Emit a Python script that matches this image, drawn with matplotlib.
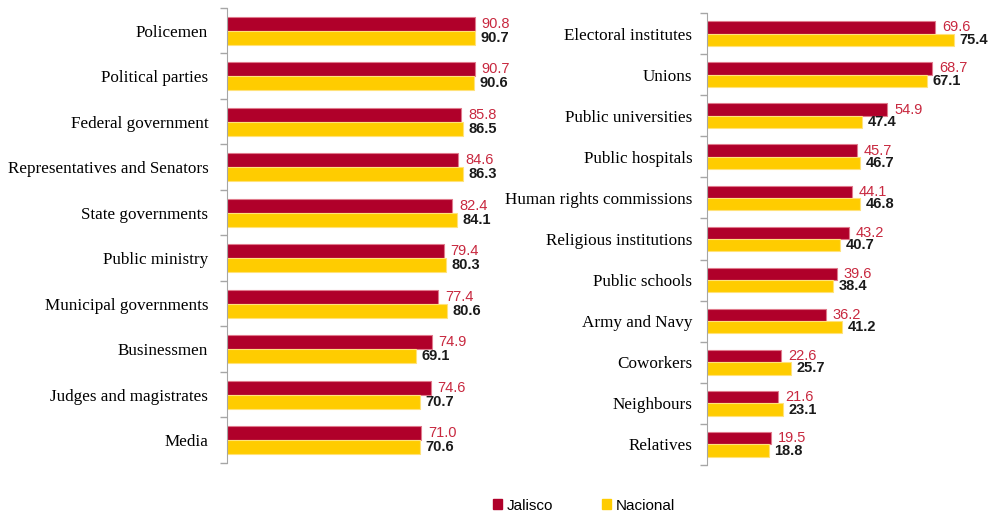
import matplotlib
matplotlib.use('Agg')
import matplotlib.pyplot as plt
import numpy as np
from matplotlib.patches import Patch

# Trust levels, Jalisco vs national
left_cats = ['Policemen', 'Political parties', 'Federal government',
             'Representatives and Senators', 'State governments', 'Public ministry',
             'Municipal governments', 'Businessmen', 'Judges and magistrates', 'Media']
left_jal = [90.8, 90.7, 85.8, 84.6, 82.4, 79.4, 77.4, 74.9, 74.6, 71.0]
left_nac = [90.7, 90.6, 86.5, 86.3, 84.1, 80.3, 80.6, 69.1, 70.7, 70.6]

right_cats = ['Electoral institutes', 'Unions', 'Public universities', 'Public hospitals',
              'Human rights commissions', 'Religious institutions', 'Public schools',
              'Army and Navy', 'Coworkers', 'Neighbours', 'Relatives']
right_jal = [69.6, 68.7, 54.9, 45.7, 44.1, 43.2, 39.6, 36.2, 22.6, 21.6, 19.5]
right_nac = [75.4, 67.1, 47.4, 46.7, 46.8, 40.7, 38.4, 41.2, 25.7, 23.1, 18.8]

RED = '#B0002A'
YEL = '#FFCC00'
RED_TXT = '#C8283F'

fig = plt.figure(figsize=(9.9, 5.15), dpi=100)

def panel(rect, cats, jal, nac, xmax, h, pad):
    ax = fig.add_axes(rect)
    y = np.arange(len(cats))
    ax.barh(y - h/2, jal, height=h, color=RED, edgecolor='#E07A8C', linewidth=0.8)
    ax.barh(y + h/2, nac, height=h, color=YEL, edgecolor='#FFE27A', linewidth=0.8)
    for yi, a, b in zip(y, jal, nac):
        ax.annotate(f'{a:.1f}', (a, yi - h/2), xytext=(5, 0), textcoords='offset points',
                    va='center', ha='left', fontsize=10.5, color=RED_TXT, family='Liberation Sans')
        ax.annotate(f'{b:.1f}', (b, yi + h/2), xytext=(4, 0), textcoords='offset points',
                    va='center', ha='left', fontsize=10.5, color='#1a1a1a', fontweight='bold',
                    family='Liberation Sans')
    ax.set_xlim(0, xmax)
    ax.set_ylim(len(cats) - 0.5, -0.5)
    ax.set_yticks(y)
    ax.set_yticklabels(cats, family='Liberation Serif', fontsize=12.3)
    ax.tick_params(axis='y', which='major', length=0, pad=pad)
    ax.set_yticks(np.arange(len(cats) + 1) - 0.5, minor=True)
    ax.tick_params(axis='y', which='minor', length=5, color='#A6A6A6', width=1)
    ax.set_xticks([])
    for s in ['top', 'right', 'bottom']:
        ax.spines[s].set_visible(False)
    ax.spines['left'].set_color('#A6A6A6')
    return ax

panel([0.2293, 0.101, 0.2758, 0.8835], left_cats, left_jal, left_nac, 100, 0.31, 13.5)
panel([0.7141, 0.0971, 0.2651, 0.8777], right_cats, right_jal, right_nac, 80, 0.30, 10.5)

handles = [Patch(color=RED, label='Jalisco'), Patch(color=YEL, label='Nacional')]
fig.legend(handles=handles, loc='center', bbox_to_anchor=(0.59, 0.018), ncol=2, frameon=False,
           prop={'family': 'Liberation Sans', 'size': 11}, handlelength=0.6, handleheight=0.6,
           handletextpad=0.3, columnspacing=3.2)

fig.savefig('out.png', dpi=100)
